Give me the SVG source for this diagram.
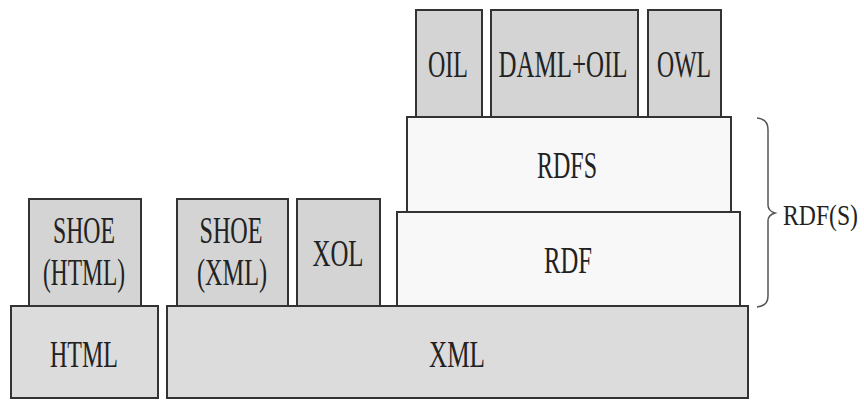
<svg xmlns="http://www.w3.org/2000/svg" width="864" height="401" viewBox="0 0 864 401">
<style>
rect{stroke:#333;stroke-width:2}
.g1{fill:#d4d4d4}
.g2{fill:#dcdcdc}
.w{fill:#f8f8f8}
text{font-family:"Liberation Serif","DejaVu Serif",serif;font-size:26px;fill:#222;text-anchor:middle}
</style>
<rect width="864" height="401" fill="#fff" style="stroke:none"/>
<g id="html"><rect class="g2" x="11" y="306" width="147" height="92"/><text transform="translate(84,367) scale(1,1.45)" textLength="68" lengthAdjust="spacingAndGlyphs">HTML</text></g>
<g id="xml"><rect class="g2" x="167" y="306" width="581" height="92"/><text transform="translate(457,367) scale(1,1.45)" textLength="56" lengthAdjust="spacingAndGlyphs">XML</text></g>
<g id="shoe-html"><rect class="g1" x="29" y="199" width="112" height="107"/><text transform="translate(84,243) scale(1,1.45)" textLength="62" lengthAdjust="spacingAndGlyphs">SHOE</text><text transform="translate(84,285) scale(1,1.45)" textLength="82" lengthAdjust="spacingAndGlyphs">(HTML)</text></g>
<g id="shoe-xml"><rect class="g1" x="177" y="199" width="111" height="107"/><text transform="translate(231,243) scale(1,1.45)" textLength="63" lengthAdjust="spacingAndGlyphs">SHOE</text><text transform="translate(232,285) scale(1,1.45)" textLength="70" lengthAdjust="spacingAndGlyphs">(XML)</text></g>
<g id="xol"><rect class="g1" x="297" y="199" width="83" height="107"/><text transform="translate(338,266) scale(1,1.45)" textLength="51" lengthAdjust="spacingAndGlyphs">XOL</text></g>
<g id="rdf"><rect class="w" x="397" y="212" width="343" height="94"/><text transform="translate(568,273) scale(1,1.45)" textLength="48" lengthAdjust="spacingAndGlyphs">RDF</text></g>
<g id="rdfs"><rect class="w" x="407" y="117" width="324" height="95"/><text transform="translate(567,178) scale(1,1.45)" textLength="60" lengthAdjust="spacingAndGlyphs">RDFS</text></g>
<g id="oil"><rect class="g1" x="416" y="10" width="66" height="107"/><text transform="translate(448,77) scale(1,1.45)" textLength="40" lengthAdjust="spacingAndGlyphs">OIL</text></g>
<g id="daml-oil"><rect class="g1" x="491" y="10" width="147" height="107"/><text transform="translate(563,77) scale(1,1.45)" textLength="129" lengthAdjust="spacingAndGlyphs">DAML+OIL</text></g>
<g id="owl"><rect class="g1" x="648" y="10" width="73" height="107"/><text transform="translate(684,77) scale(1,1.45)" textLength="54" lengthAdjust="spacingAndGlyphs">OWL</text></g>
<g id="connectors">
<path d="M757,118 Q768,119 768,130 L768,205 Q768,211 775,213 Q768,215 768,221 L768,296 Q768,306 757,307" fill="none" stroke="#555" stroke-width="1.5"/>
</g>
<g id="rdf-s-label"><text transform="translate(783,225) scale(1,1.2)" style="text-anchor:start;font-size:24px" textLength="75" lengthAdjust="spacingAndGlyphs">RDF(S)</text></g>
</svg>
